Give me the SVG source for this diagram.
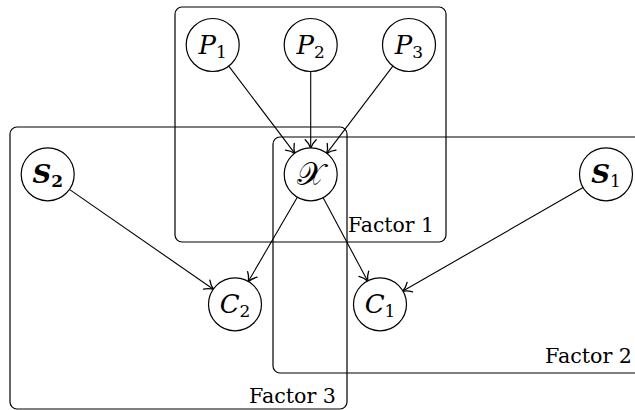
<svg xmlns="http://www.w3.org/2000/svg" width="635" height="410" viewBox="0 0 635 410">
<style>
.box{fill:none;stroke:#000;stroke-width:1.2}
.nd{fill:#fff;stroke:#000;stroke-width:1.2}
.lbl{font-family:"DejaVu Serif",serif;font-size:21px;fill:#000}
.m{font-family:"DejaVu Serif",serif;font-size:26px;fill:#000;text-anchor:middle}
.i{font-style:italic}
.sub{font-size:17px;font-style:normal}
.e{stroke:#000;stroke-width:1.1;fill:none;marker-end:url(#ah)}
</style>
<defs>
<marker id="ah" markerUnits="userSpaceOnUse" markerWidth="16" markerHeight="16" refX="0" refY="0" viewBox="-12 -8 14 16" orient="auto" overflow="visible">
<path d="M-8.5,-5.5 C-6,-2.8 -2.5,-0.8 0,0 C-2.5,0.8 -6,2.8 -8.5,5.5" fill="none" stroke="#000" stroke-width="1.3" stroke-linecap="round"/>
</marker>
</defs>
<g id="factors">
<rect class="box" x="175" y="7" width="271" height="235" rx="7"/>
<rect class="box" x="273" y="137" width="400" height="236" rx="7"/>
<rect class="box" x="10" y="127" width="337" height="282" rx="7"/>
<text class="lbl" x="348" y="232" textLength="86" lengthAdjust="spacingAndGlyphs">Factor 1</text>
<text class="lbl" x="545" y="363" textLength="87" lengthAdjust="spacingAndGlyphs">Factor 2</text>
<text class="lbl" x="249" y="403" textLength="87" lengthAdjust="spacingAndGlyphs">Factor 3</text>
</g>
<g id="edges">
<line class="e" x1="228.4" y1="65.7" x2="295" y2="153.6"/>
<line class="e" x1="310.7" y1="71" x2="310.7" y2="148.3"/>
<line class="e" x1="393.2" y1="65.7" x2="326.5" y2="153.6"/>
<line class="e" x1="297.6" y1="196.8" x2="248.1" y2="281.8"/>
<line class="e" x1="322.9" y1="197.3" x2="367.8" y2="281.3"/>
<line class="e" x1="69" y1="189.1" x2="213.7" y2="289.5"/>
<line class="e" x1="583.5" y1="187.3" x2="402.5" y2="291.3"/>
</g>
<g id="P1"><circle class="nd" cx="212.7" cy="45" r="26.5"/><text class="m" x="212.7" y="54"><tspan class="i">P</tspan><tspan class="sub" dy="4">1</tspan></text></g>
<g id="P2"><circle class="nd" cx="310.7" cy="45" r="26.5"/><text class="m" x="310.7" y="54"><tspan class="i">P</tspan><tspan class="sub" dy="4">2</tspan></text></g>
<g id="P3"><circle class="nd" cx="409" cy="45" r="26.5"/><text class="m" x="409" y="54"><tspan class="i">P</tspan><tspan class="sub" dy="4">3</tspan></text></g>
<g id="X"><circle class="nd" cx="310.7" cy="174.3" r="26.5"/><text class="m" x="310.7" y="185" style="font-size:32px">𝒳</text></g>
<g id="S2"><circle class="nd" cx="47.7" cy="174.3" r="26.5"/><text class="m" x="47.7" y="183" font-weight="bold"><tspan class="i">S</tspan><tspan class="sub" dy="4">2</tspan></text></g>
<g id="S1"><circle class="nd" cx="606" cy="174.3" r="26.5"/><text class="m" x="606" y="183"><tspan class="i" font-weight="bold">S</tspan><tspan class="sub" dy="4">1</tspan></text></g>
<g id="C2"><circle class="nd" cx="235" cy="304.3" r="26.5"/><text class="m" x="235" y="313"><tspan class="i">C</tspan><tspan class="sub" dy="4">2</tspan></text></g>
<g id="C1"><circle class="nd" cx="380" cy="304.3" r="26.5"/><text class="m" x="380" y="313"><tspan class="i">C</tspan><tspan class="sub" dy="4">1</tspan></text></g>
</svg>
